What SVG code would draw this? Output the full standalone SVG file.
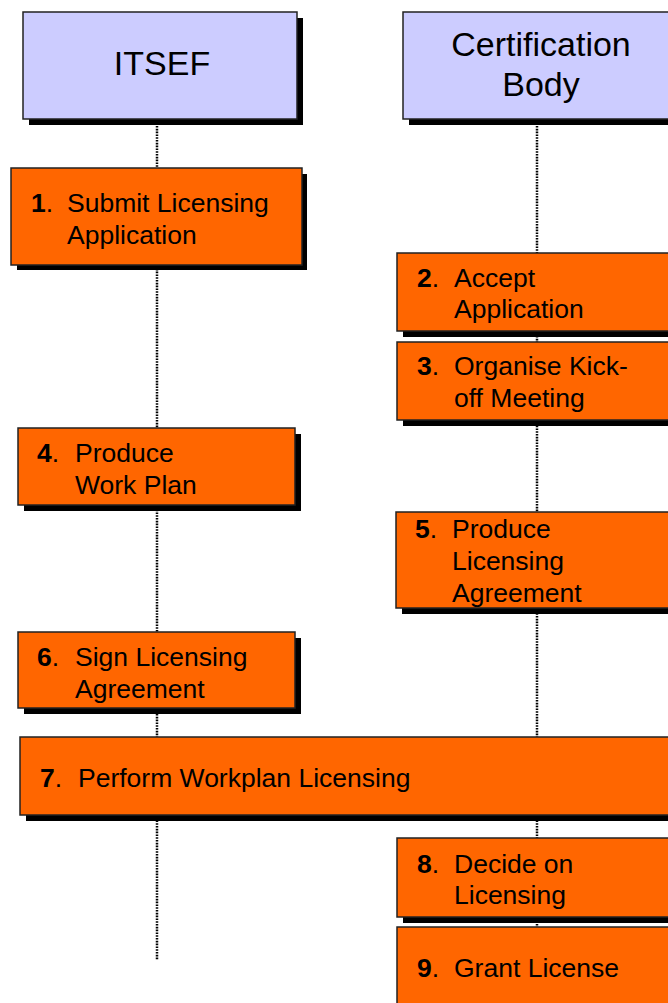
<svg xmlns="http://www.w3.org/2000/svg" width="668" height="1003" viewBox="0 0 668 1003">
<style>
.sh{fill:#000}
.hd{fill:#CCCCFF;stroke:#222;stroke-width:1.5}
.bx{fill:#FF6600;stroke:#222;stroke-width:1.5}
.ht{font-family:"Liberation Sans",Arial,sans-serif;font-size:34px;fill:#000;text-anchor:middle}
.t{font-family:"Liberation Sans",Arial,sans-serif;font-size:26.5px;fill:#000}
.n{font-weight:bold}
.ln{stroke:#000;stroke-width:2.5;stroke-dasharray:1.6 1.2;fill:none}
</style>
<rect width="668" height="1003" fill="#fff"/>
<g id="connectors">
<line class="ln" x1="157" y1="126" x2="157" y2="960"/>
<line class="ln" x1="537" y1="126" x2="537" y2="1003"/>
</g>
<g id="itsef">
<rect class="sh" x="29" y="18" width="274" height="107"/>
<rect class="hd" x="23" y="12" width="274" height="107"/>
<text class="ht" x="162" y="75">ITSEF</text>
</g>
<g id="cb">
<rect class="sh" x="409" y="18" width="280" height="107"/>
<rect class="hd" x="403" y="12" width="280" height="107"/>
<text class="ht" x="541" y="56">Certification</text>
<text class="ht" x="541" y="96">Body</text>
</g>
<g id="s1">
<rect class="sh" x="17" y="174" width="290" height="96"/>
<rect class="bx" x="11" y="168" width="291" height="97"/>
<text class="t" x="31" y="212"><tspan class="n">1</tspan>.</text>
<text class="t" x="67" y="212">Submit Licensing</text>
<text class="t" x="67" y="244">Application</text>
</g>
<g id="s2">
<rect class="sh" x="403" y="259" width="280" height="78"/>
<rect class="bx" x="397" y="253" width="280" height="78"/>
<text class="t" x="417" y="287"><tspan class="n">2</tspan>.</text>
<text class="t" x="454" y="287">Accept</text>
<text class="t" x="454" y="318">Application</text>
</g>
<g id="s3">
<rect class="sh" x="403" y="348" width="280" height="78"/>
<rect class="bx" x="397" y="342" width="280" height="78"/>
<text class="t" x="417" y="375"><tspan class="n">3</tspan>.</text>
<text class="t" x="454" y="375">Organise Kick-</text>
<text class="t" x="454" y="407">off Meeting</text>
</g>
<g id="s4">
<rect class="sh" x="24" y="434" width="277" height="77"/>
<rect class="bx" x="18" y="428" width="277" height="77"/>
<text class="t" x="37" y="462"><tspan class="n">4</tspan>.</text>
<text class="t" x="75" y="462">Produce</text>
<text class="t" x="75" y="494">Work Plan</text>
</g>
<g id="s5">
<rect class="sh" x="402" y="518" width="280" height="96"/>
<rect class="bx" x="396" y="512" width="280" height="96"/>
<text class="t" x="415" y="538"><tspan class="n">5</tspan>.</text>
<text class="t" x="452" y="538">Produce</text>
<text class="t" x="452" y="570">Licensing</text>
<text class="t" x="452" y="602">Agreement</text>
</g>
<g id="s6">
<rect class="sh" x="24" y="638" width="277" height="76"/>
<rect class="bx" x="18" y="632" width="277" height="76"/>
<text class="t" x="37" y="666"><tspan class="n">6</tspan>.</text>
<text class="t" x="75" y="666">Sign Licensing</text>
<text class="t" x="75" y="698">Agreement</text>
</g>
<g id="s7">
<rect class="sh" x="26" y="743" width="660" height="78"/>
<rect class="bx" x="20" y="737" width="660" height="78"/>
<text class="t" x="40" y="787"><tspan class="n">7</tspan>.</text>
<text class="t" x="78" y="787">Perform Workplan Licensing</text>
</g>
<g id="s8">
<rect class="sh" x="403" y="844" width="280" height="79"/>
<rect class="bx" x="397" y="838" width="280" height="79"/>
<text class="t" x="417" y="873"><tspan class="n">8</tspan>.</text>
<text class="t" x="454" y="873">Decide on</text>
<text class="t" x="454" y="904">Licensing</text>
</g>
<g id="s9">
<rect class="sh" x="403" y="933" width="280" height="80"/>
<rect class="bx" x="397" y="927" width="280" height="80"/>
<text class="t" x="417" y="977"><tspan class="n">9</tspan>.</text>
<text class="t" x="454" y="977">Grant License</text>
</g>
</svg>
